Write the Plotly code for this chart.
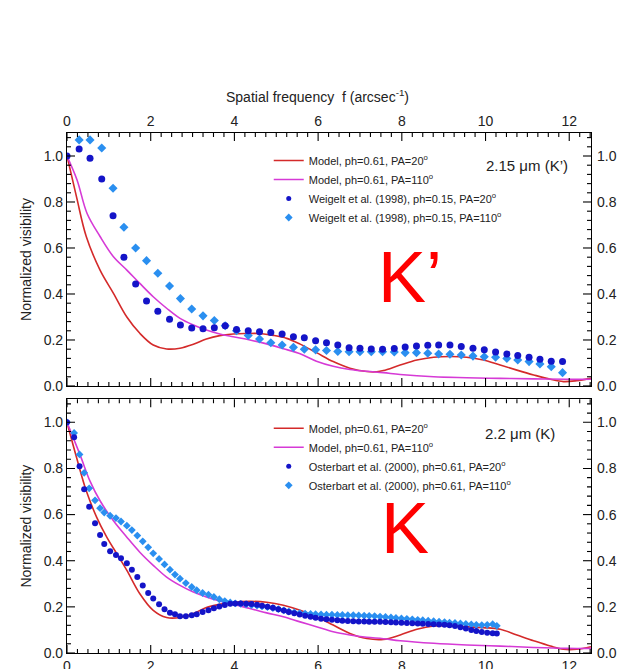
import plotly.graph_objects as go

# ---------------- data : top panel (K', 2.15 um) ----------------
kp_model20_x = [0, 0.23, 0.46, 0.79, 1.11, 1.43, 1.74, 2.06, 2.38, 2.70, 3.02, 3.33, 3.65, 3.97, 4.29, 4.61, 4.93, 5.25, 5.57, 5.96, 6.36, 6.76, 7.16, 7.40, 7.56, 7.96, 8.36, 8.76, 9.16, 9.55, 9.95, 10.35, 10.75, 11.15, 11.55, 11.86, 12.18, 12.52]
kp_model20_y = [1.0, 0.82, 0.65, 0.504, 0.403, 0.30, 0.229, 0.178, 0.161, 0.164, 0.181, 0.204, 0.219, 0.226, 0.228, 0.228, 0.22, 0.207, 0.182, 0.145, 0.106, 0.077, 0.063, 0.062, 0.067, 0.091, 0.113, 0.125, 0.128, 0.125, 0.113, 0.091, 0.069, 0.048, 0.029, 0.019, 0.023, 0.033]

kp_model110_x = [0, 0.24, 0.48, 0.79, 1.11, 1.43, 1.74, 2.06, 2.38, 2.70, 3.02, 3.33, 3.65, 3.97, 4.37, 4.77, 5.17, 5.57, 5.96, 6.36, 6.76, 7.16, 7.56, 7.96, 8.76, 9.55, 10.35, 11.15, 11.94, 12.52]
kp_model110_y = [1.0, 0.896, 0.75, 0.65, 0.562, 0.504, 0.446, 0.388, 0.338, 0.294, 0.265, 0.243, 0.226, 0.214, 0.200, 0.183, 0.162, 0.140, 0.108, 0.086, 0.072, 0.064, 0.058, 0.050, 0.040, 0.036, 0.033, 0.031, 0.029, 0.029]

kp_obs_x = [0.29, 0.55, 0.83, 1.10, 1.36, 1.64, 1.90, 2.17, 2.45, 2.71, 2.98, 3.25, 3.52, 3.78, 4.05, 4.33, 4.60, 4.87, 5.14, 5.41, 5.67, 5.94, 6.20, 6.47, 6.74, 7.00, 7.27, 7.54, 7.82, 8.08, 8.35, 8.62, 8.88, 9.15, 9.42, 9.70, 9.97, 10.24, 10.51, 10.77, 11.04, 11.30, 11.57, 11.84]
kp_obs20_y = [1.03, 0.99, 0.90, 0.74, 0.56, 0.443, 0.37, 0.325, 0.29, 0.265, 0.252, 0.249, 0.253, 0.262, 0.246, 0.240, 0.236, 0.232, 0.226, 0.214, 0.210, 0.197, 0.188, 0.178, 0.166, 0.164, 0.161, 0.160, 0.163, 0.170, 0.174, 0.177, 0.178, 0.178, 0.172, 0.164, 0.157, 0.148, 0.139, 0.132, 0.125, 0.116, 0.107, 0.106]
kp_obs110_y = [1.07, 1.07, 1.035, 0.86, 0.69, 0.60, 0.545, 0.49, 0.435, 0.38, 0.335, 0.305, 0.285, 0.262, 0.240, 0.220, 0.204, 0.188, 0.178, 0.168, 0.160, 0.157, 0.154, 0.150, 0.149, 0.149, 0.149, 0.149, 0.148, 0.145, 0.145, 0.142, 0.139, 0.138, 0.135, 0.130, 0.127, 0.125, 0.120, 0.113, 0.106, 0.096, 0.084, 0.058]

# ---------------- data : bottom panel (K, 2.2 um) ----------------
k_model20_x = [0, 0.23, 0.46, 0.71, 0.95, 1.19, 1.43, 1.74, 2.06, 2.38, 2.70, 3.02, 3.33, 3.65, 3.97, 4.37, 4.77, 5.17, 5.57, 5.96, 6.36, 6.76, 7.16, 7.56, 7.96, 8.36, 8.76, 9.16, 9.55, 9.95, 10.35, 10.75, 11.15, 11.55, 11.86, 12.18, 12.52]
k_model20_y = [1.0, 0.846, 0.703, 0.588, 0.502, 0.43, 0.358, 0.257, 0.185, 0.154, 0.154, 0.171, 0.197, 0.211, 0.22, 0.224, 0.22, 0.207, 0.185, 0.157, 0.121, 0.085, 0.063, 0.059, 0.078, 0.103, 0.117, 0.117, 0.114, 0.11, 0.103, 0.078, 0.053, 0.03, 0.016, 0.016, 0.027]

k_model110_x = [0, 0.31, 0.55, 0.79, 1.11, 1.43, 1.74, 2.06, 2.38, 2.70, 3.02, 3.33, 3.65, 3.97, 4.37, 4.77, 5.17, 5.57, 5.96, 6.36, 6.76, 7.16, 7.56, 7.96, 8.76, 9.55, 10.35, 11.15, 11.94, 12.52]
k_model110_y = [1.0, 0.86, 0.745, 0.66, 0.573, 0.502, 0.437, 0.38, 0.329, 0.293, 0.264, 0.243, 0.226, 0.211, 0.193, 0.174, 0.157, 0.135, 0.114, 0.092, 0.078, 0.068, 0.062, 0.053, 0.042, 0.035, 0.030, 0.024, 0.020, 0.020]

k_obs_x = [0.00, 0.17, 0.30, 0.41, 0.53, 0.67, 0.79, 0.89, 1.03, 1.17, 1.29, 1.43, 1.55, 1.68, 1.81, 1.94, 2.06, 2.20, 2.33, 2.46, 2.58, 2.70, 2.84, 2.98, 3.10, 3.24, 3.38,
           3.51, 3.64, 3.77, 3.90, 4.02, 4.15, 4.28, 4.41, 4.54, 4.66, 4.79, 4.92, 5.05, 5.18, 5.30, 5.43, 5.56, 5.69, 5.82, 5.94,
           6.07, 6.20, 6.33, 6.46, 6.58, 6.71, 6.84, 6.97, 7.10, 7.22, 7.35, 7.48, 7.61, 7.74, 7.86, 7.99,
           8.12, 8.25, 8.38, 8.50, 8.63, 8.76, 8.89, 9.02, 9.14, 9.27, 9.40, 9.53, 9.66, 9.78, 9.91, 10.04, 10.17, 10.27]
k_obs20_y = [1.0, 0.935, 0.81, 0.71, 0.634, 0.562, 0.512, 0.473, 0.441, 0.425, 0.411, 0.389, 0.361, 0.329, 0.293, 0.26, 0.236, 0.211, 0.19, 0.175, 0.168, 0.159, 0.159, 0.164, 0.168, 0.178, 0.185,
             0.194, 0.202, 0.208, 0.213, 0.215, 0.215, 0.214, 0.212, 0.209, 0.205, 0.201, 0.196, 0.190, 0.184, 0.178, 0.172, 0.167, 0.162, 0.157, 0.153,
             0.149, 0.146, 0.144, 0.142, 0.140, 0.139, 0.138, 0.137, 0.137, 0.136, 0.135, 0.135, 0.134, 0.133, 0.132, 0.131,
             0.130, 0.129, 0.128, 0.127, 0.126, 0.125, 0.124, 0.122, 0.120, 0.117, 0.112, 0.106, 0.100, 0.095, 0.091, 0.088, 0.086, 0.085]
k_obs110_y = [1.0, 0.954, 0.861, 0.781, 0.714, 0.662, 0.628, 0.609, 0.595, 0.585, 0.570, 0.552, 0.533, 0.509, 0.484, 0.458, 0.432, 0.408, 0.384, 0.361, 0.34, 0.322, 0.303, 0.286, 0.272, 0.26, 0.253,
              0.243, 0.233, 0.225, 0.219, 0.215, 0.213, 0.211, 0.208, 0.205, 0.202, 0.199, 0.195, 0.190, 0.185, 0.180, 0.176, 0.173, 0.171, 0.169, 0.168,
              0.167, 0.166, 0.166, 0.165, 0.165, 0.164, 0.164, 0.163, 0.162, 0.161, 0.160, 0.158, 0.156, 0.154, 0.152, 0.150,
              0.148, 0.146, 0.144, 0.142, 0.140, 0.138, 0.136, 0.134, 0.132, 0.130, 0.128, 0.126, 0.124, 0.122, 0.121, 0.122, 0.125, 0.118]

y_ticks = [0.0, 0.2, 0.4, 0.6, 0.8, 1.0]
x_ticks = [0, 2, 4, 6, 8, 10, 12]

top_names = ["Model, ph=0.61, PA=20<sup>o</sup>", "Model, ph=0.61, PA=110<sup>o</sup>",
             "Weigelt et al. (1998), ph=0.15, PA=20<sup>o</sup>", "Weigelt et al. (1998), ph=0.15, PA=110<sup>o</sup>"]
bot_names = ["Model, ph=0.61, PA=20<sup>o</sup>", "Model, ph=0.61, PA=110<sup>o</sup>",
             "Osterbart et al. (2000), ph=0.61, PA=20<sup>o</sup>", "Osterbart et al. (2000), ph=0.61, PA=110<sup>o</sup>"]

RED = "#d42a2a"
MAG = "#d63ad6"
DARK = "#1414c8"
LIGHT = "#2a8ff0"
FONT = "Liberation Sans, Arial, sans-serif"
TXT = "#222"

fig = go.Figure()


def add_panel(xa, ya, leg, m20x, m20y, m110x, m110y, ox, o20, o110, names, msize):
    fig.add_trace(go.Scatter(x=m20x, y=m20y, mode="lines", line=dict(color=RED, width=1.6, shape="spline"),
                             name=names[0], xaxis=xa, yaxis=ya, legend=leg, legendrank=1))
    fig.add_trace(go.Scatter(x=m110x, y=m110y, mode="lines", line=dict(color=MAG, width=1.6, shape="spline"),
                             name=names[1], xaxis=xa, yaxis=ya, legend=leg, legendrank=2))
    fig.add_trace(go.Scatter(x=ox, y=o110, mode="markers", marker=dict(color=LIGHT, size=msize, symbol="diamond"),
                             showlegend=False, xaxis=xa, yaxis=ya))
    fig.add_trace(go.Scatter(x=ox, y=o20, mode="markers", marker=dict(color=DARK, size=msize, symbol="circle"),
                             showlegend=False, xaxis=xa, yaxis=ya))
    fig.add_trace(go.Scatter(x=[None], y=[None], mode="markers", marker=dict(color=DARK, size=5, symbol="circle"),
                             name=names[2], xaxis=xa, yaxis=ya, legend=leg, legendrank=3))
    fig.add_trace(go.Scatter(x=[None], y=[None], mode="markers", marker=dict(color=LIGHT, size=6, symbol="diamond"),
                             name=names[3], xaxis=xa, yaxis=ya, legend=leg, legendrank=4))


add_panel("x", "y", "legend", kp_model20_x, kp_model20_y, kp_model110_x, kp_model110_y,
          [0] + kp_obs_x, [1.0] + kp_obs20_y, [None] + kp_obs110_y, top_names, 7)
add_panel("x2", "y2", "legend2", k_model20_x, k_model20_y, k_model110_x, k_model110_y,
          k_obs_x, k_obs20_y, k_obs110_y, bot_names, 6)

XR = [0, 12.52]
YR = [0, 1.1]
top_dom = [0.5135, 1.0]
bot_dom = [0.0, 0.488]
xstep = x_ticks[1] - x_ticks[0]
ystep = y_ticks[1] - y_ticks[0]

ytitle = dict(text="Normalized visibility", font=dict(family=FONT, size=14, color=TXT), standoff=8)


def axis(**kw):
    d = dict(showline=True, linecolor="#000", linewidth=1.2, mirror=True,
             ticks="", showgrid=False, zeroline=False,
             tickfont=dict(family=FONT, size=14, color=TXT))
    d.update(kw)
    return d


fig.update_layout(
    template="none",
    width=618, height=669, autosize=False,
    margin=dict(l=67, r=27, t=133, b=16),
    paper_bgcolor="white", plot_bgcolor="white",
    font=dict(family=FONT, color=TXT),
    xaxis=axis(domain=[0, 1], anchor="y", side="top", range=XR, dtick=xstep),
    yaxis=axis(domain=top_dom, anchor="x", range=YR, dtick=ystep, tickformat=".1f", title=ytitle),
    xaxis2=axis(domain=[0, 1], anchor="y2", side="bottom", range=XR, dtick=xstep),
    yaxis2=axis(domain=bot_dom, anchor="x2", range=YR, dtick=ystep, tickformat=".1f", title=ytitle),
    legend=dict(x=0.385, y=0.975, xanchor="left", yanchor="top", bgcolor="rgba(0,0,0,0)",
                font=dict(family=FONT, size=11, color=TXT), tracegroupgap=0, itemwidth=30),
    legend2=dict(x=0.385, y=0.46, xanchor="left", yanchor="top", bgcolor="rgba(0,0,0,0)",
                 font=dict(family=FONT, size=11, color=TXT), tracegroupgap=0, itemwidth=30),
    showlegend=True,
)

# ---- inward tick marks on all four sides of both frames (axis decoration, in axis units) ----
x_minor = [i * 0.25 for i in range(0, 51)]
y_minor = [round(i * 0.04, 2) for i in range(0, 28)]
shapes = []
for xr, yr in (("x", "y"), ("x2", "y2")):
    for v in x_minor:
        ln = 8 if any(abs(v - t) < 1e-6 for t in x_ticks) else 4
        for anc, sgn in ((0, 1), (1, -1)):
            shapes.append(dict(type="line", xref=xr, yref=yr + " domain", x0=v, x1=v,
                               ysizemode="pixel", yanchor=anc, y0=0, y1=sgn * ln,
                               line=dict(color="#000", width=1.1), layer="above"))
    for v in y_minor:
        ln = 8 if any(abs(v - t) < 1e-6 for t in y_ticks) else 4
        for anc, sgn in ((0, 1), (1, -1)):
            shapes.append(dict(type="line", xref=xr + " domain", yref=yr, y0=v, y1=v,
                               xsizemode="pixel", xanchor=anc, x0=0, x1=sgn * ln,
                               line=dict(color="#000", width=1.1), layer="above"))
fig.update_layout(shapes=shapes)

for yref in ("y", "y2"):
    for v in y_ticks:
        fig.add_annotation(xref="paper", yref=yref, x=1.0, y=v, xanchor="left", xshift=4, showarrow=False,
                           text=f"{v:.1f}", font=dict(family=FONT, size=14, color=TXT))

fig.add_annotation(xref="paper", yref="paper", x=0.479, y=1.092, showarrow=False,
                   text="Spatial frequency  f (arcsec<sup>-1</sup>)",
                   font=dict(family=FONT, size=14, color=TXT))
fig.add_annotation(xref="x", yref="y", x=11.0, y=0.96, showarrow=False,
                   text="2.15 μm (K’)", font=dict(family=FONT, size=15, color=TXT))
fig.add_annotation(xref="x2", yref="y2", x=10.83, y=0.953, showarrow=False,
                   text="2.2 μm (K)", font=dict(family=FONT, size=15, color=TXT))
fig.add_annotation(xref="x", yref="y", x=8.2, y=0.474, showarrow=False,
                   text="K’", font=dict(family=FONT, size=72, color="#ff0000"))
fig.add_annotation(xref="x2", yref="y2", x=8.08, y=0.543, showarrow=False,
                   text="K", font=dict(family=FONT, size=72, color="#ff0000"))

fig.write_html("out.html")
